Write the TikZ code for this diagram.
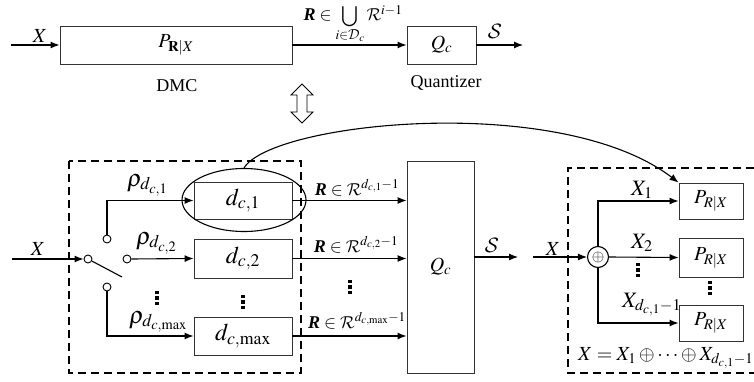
\documentclass[tikz,border=0pt]{standalone}
\usepackage{mathptmx}
\usepackage{amsmath}
\usepackage{fontspec}
\setmainfont{Liberation Serif}
\DeclareMathAlphabet{\mathcal}{OMS}{cmsy}{m}{n}
\usetikzlibrary{arrows.meta,shapes.geometric}
\newcommand{\bRi}{\mbox{\bfseries\itshape R}}
\newcommand{\bigU}{\mathop{\vcenter{\hbox{\scalebox{1.25}{$\bigcup$}}}}}
\newcommand{\vdt}{\vbox{\hrule width 3.5pt height 3.5pt\kern 1.8pt\hrule width 3.5pt height 3.5pt\kern 1.8pt\hrule width 3.5pt height 3.5pt}}
\begin{document}
\begin{tikzpicture}[x=1pt,y=-1pt,
  box/.style={draw=black!80, line width=0.9pt, inner sep=0pt},
  arr/.style={line width=1.1pt, -{Latex[length=9pt,width=7pt]}},
  ln/.style={line width=1.1pt},
  dbox/.style={line width=1.1pt, dash pattern=on 8pt off 5pt},
  t18/.style={font=\fontsize{18}{20}\selectfont, inner sep=0pt},
  t20/.style={font=\fontsize{20}{22}\selectfont, inner sep=0pt},
  t22/.style={font=\fontsize{22}{24}\selectfont, inner sep=0pt},
  t24/.style={font=\fontsize{24}{26}\selectfont, inner sep=0pt},
  sw/.style={circle, draw, fill=white, minimum size=8pt, inner sep=0pt, line width=0.9pt},
  vd/.style={inner sep=0pt}]
\useasboundingbox (0,0) rectangle (754,382);

% ---------- top row ----------
\node[box, minimum width=232pt, minimum height=38pt, t20] (dmc) at (176,45) {$P_{\mathbf{R}|X}$};
\node[box, minimum width=69pt, minimum height=38pt, t20] (qtop) at (441.5,45) {$Q_c$};
\coordinate (xin) at (11,45);
\coordinate (sout) at (523,45);
\draw[arr] (xin) -- (dmc.west);
\draw[arr] (dmc.east) -- (qtop.west);
\draw[arr] (qtop.east) -- (sout);
\node[t20, anchor=base] (lx) at (40,43) {$X$};
\node[t18, anchor=base] (lr) at (353,21) {$\bRi\in\bigU\limits_{\scriptstyle i\in\mathcal{D}_c}\mathcal{R}^{i-1}$};
\node[t22, anchor=base] (ls) at (495,39) {$\mathcal{S}$};
\node[t18, anchor=base] (ldmc) at (177,92) {DMC};
\node[t18, anchor=base] (lq) at (446,88) {Quantizer};

% double arrow
\draw[line width=0.8pt] (302,84) -- (313,95) -- (307,95) -- (307,112) -- (313,112) -- (302,123)
  -- (291,112) -- (297,112) -- (297,95) -- (291,95) -- cycle;

% ---------- bottom left ----------
\draw[dbox] (69,161) rectangle (301,373);
\node[sw] (sw0) at (88,259) {};
\node[sw] (sw1) at (107,239) {};
\node[sw] (sw2) at (127,259) {};
\node[sw] (sw3) at (107,287) {};
\coordinate (xin2) at (12,259);
\coordinate (lev) at (122,277);
\draw[arr] (xin2) -- (sw0.west);
\draw[ln] (sw0) -- (lev);
\node[t20, anchor=base] (lx2) at (38,255) {$X$};

\node[box, minimum width=98pt, minimum height=37pt, t24] (d1) at (243,200.5) {$d_{c,1}$};
\node[box, minimum width=98pt, minimum height=39pt, t24] (d2) at (243,258.5) {$d_{c,2}$};
\node[box, minimum width=98pt, minimum height=38pt, t24] (dm) at (243,336) {$d_{c,\max}$};

\draw[arr] (sw1.north) |- (d1.west);
\draw[arr] (sw2.east) -- (d2.west);
\draw[arr] (sw3.south) |- (dm.west);

\node[t24, anchor=base west] (r1) at (127,186) {$\rho_{d_{c,1}}$};
\node[t24, anchor=base west] (r2) at (136,244) {$\rho_{d_{c,2}}$};
\node[t24, anchor=base west] (r3) at (129,323) {$\rho_{d_{c,\max}}$};
\node[vd] (v1) at (157,298) {\vdt};
\node[vd] (v2) at (243,302) {\vdt};

\node[ellipse, draw, line width=1.1pt, minimum width=124pt, minimum height=63pt, inner sep=0pt] (ell) at (244,200) {};

% Q big
\node[box, minimum width=67pt, minimum height=212pt, t20] (qb) at (440.5,267) {$Q_c$};
\draw[arr] (d1.east) -- (qb.west |- d1.east);
\draw[arr] (d2.east) -- (qb.west |- d2.east);
\draw[arr] (dm.east) -- (qb.west |- dm.east);
\node[t18, anchor=base] (o1) at (357,195) {$\bRi\in\mathcal{R}^{d_{c,1}-1}$};
\node[t18, anchor=base] (o2) at (356,252) {$\bRi\in\mathcal{R}^{d_{c,2}-1}$};
\node[t18, anchor=base] (o3) at (357,328) {$\bRi\in\mathcal{R}^{d_{c,\max}-1}$};
\node[vd] (v3) at (350,287) {\vdt};
\coordinate (sout2) at (518,257);
\draw[arr] (qb.east |- sout2) -- (sout2);
\node[t22, anchor=base] (ls2) at (492,252) {$\mathcal{S}$};

% ---------- right ----------
\draw[dbox] (754,168) -- (568,168) -- (568,373) -- (754,373);
\node[circle, draw, line width=1.1pt, minimum size=21pt, inner sep=0pt, font=\fontsize{16}{16}\selectfont] (op) at (598,257) {$\oplus$};
\coordinate (xin3) at (533,257);
\draw[arr] (xin3) -- (op.west);
\node[t20, anchor=base] (lx3) at (553,255) {$X$};

\node[box, minimum width=64pt, minimum height=36pt, t20] (p1) at (711,201) {$P_{R|X}$};
\node[box, minimum width=64pt, minimum height=39pt, t20] (p2) at (711,257.5) {$P_{R|X}$};
\node[box, minimum width=64pt, minimum height=36pt, t20] (p3) at (711,323) {$P_{R|X}$};
\draw[arr] (op.north) |- (p1.west);
\draw[arr] (op.east) -- (p2.west);
\draw[arr] (op.south) |- (p3.west);
\node[t22, anchor=base west] (x1) at (631,195) {$X_1$};
\node[t22, anchor=base west] (x2) at (631,248) {$X_2$};
\node[t22, anchor=base west] (x3) at (622,307) {$X_{d_{c,1}-1}$};
\node[vd] (v4) at (638,270) {\vdt};
\node[vd] (v5) at (710,288) {\vdt};
\node[t20, anchor=base west] (fx) at (578,360) {$X=X_1\oplus\cdots\oplus X_{d_{c,1}-1}$};

% curved connector
\draw[arr] (ell.north) .. controls (272,122) and (560,92) .. (p1.north west);
\end{tikzpicture}
\end{document}
